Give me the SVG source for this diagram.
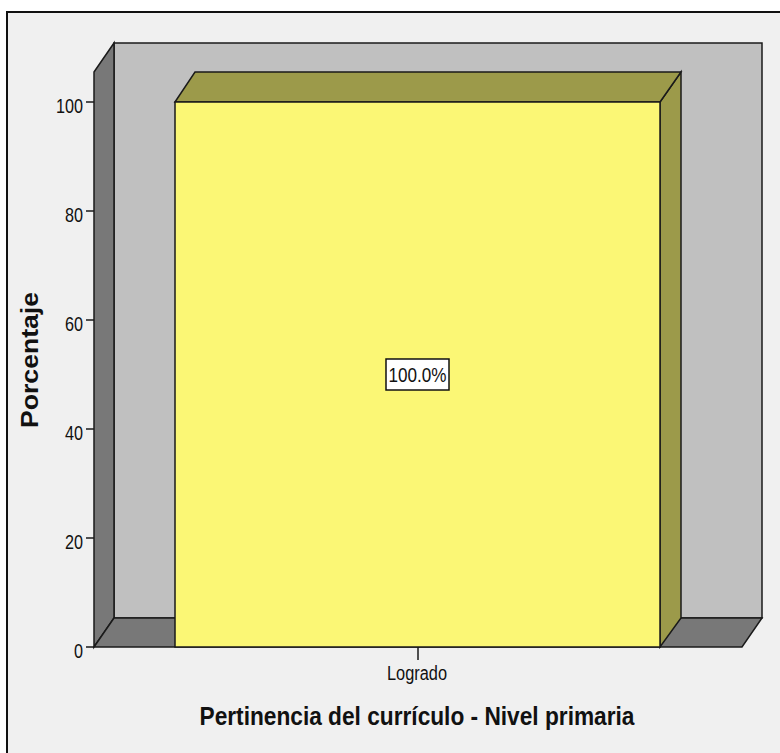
<svg xmlns="http://www.w3.org/2000/svg" width="780" height="753" viewBox="0 0 780 753">
<style>
.edge{stroke:#1a1a1a;stroke-width:1.5;stroke-linejoin:miter}
.tick{stroke:#1a1a1a;stroke-width:1.5}
.num{font-family:"Liberation Sans",Arial,sans-serif;font-size:20px;fill:#111}
.ttl{font-family:"Liberation Sans",Arial,sans-serif;font-weight:bold;fill:#111}
</style>
<rect x="0" y="0" width="780" height="753" fill="#ffffff"/>
<rect x="7" y="12" width="780" height="760" fill="#f0f0f0" stroke="#111" stroke-width="2"/>
<g id="chart-frame">
<rect class="edge" x="114" y="43" width="648" height="575" fill="#c0c0c0"/>
<polygon class="edge" points="94,72 114,43 114,618 94,647" fill="#787878"/>
<polygon class="edge" points="94,647 114,618 762,618 742,647" fill="#787878"/>
</g>
<g id="bar-logrado">
<polygon class="edge" points="660,102 681,72 681,618 660,647" fill="#9c9a4a"/>
<polygon class="edge" points="175,102 195,72 681,72 660,102" fill="#9c9a4a"/>
<rect class="edge" x="175" y="102" width="485" height="545" fill="#fbf775"/>
</g>
<g id="y-axis">
<line class="tick" x1="86" y1="102" x2="94" y2="102"/>
<line class="tick" x1="86" y1="211" x2="94" y2="211"/>
<line class="tick" x1="86" y1="320" x2="94" y2="320"/>
<line class="tick" x1="86" y1="429" x2="94" y2="429"/>
<line class="tick" x1="86" y1="538" x2="94" y2="538"/>
<line class="tick" x1="86" y1="647" x2="94" y2="647"/>
<text class="num" x="83" y="113" text-anchor="end" textLength="27" lengthAdjust="spacingAndGlyphs">100</text>
<text class="num" x="83" y="222" text-anchor="end" textLength="18" lengthAdjust="spacingAndGlyphs">80</text>
<text class="num" x="83" y="331" text-anchor="end" textLength="18" lengthAdjust="spacingAndGlyphs">60</text>
<text class="num" x="83" y="440" text-anchor="end" textLength="18" lengthAdjust="spacingAndGlyphs">40</text>
<text class="num" x="83" y="549" text-anchor="end" textLength="18" lengthAdjust="spacingAndGlyphs">20</text>
<text class="num" x="83" y="658" text-anchor="end" textLength="9" lengthAdjust="spacingAndGlyphs">0</text>
<text class="ttl" font-size="23" transform="translate(38,360) rotate(-90)" text-anchor="middle" textLength="136" lengthAdjust="spacingAndGlyphs">Porcentaje</text>
</g>
<g id="x-axis">
<line class="tick" x1="418" y1="647" x2="418" y2="660"/>
<text class="num" font-size="18" x="417" y="680" text-anchor="middle" textLength="60" lengthAdjust="spacingAndGlyphs">Logrado</text>
<text class="ttl" font-size="26" x="417" y="725" text-anchor="middle" textLength="435" lengthAdjust="spacingAndGlyphs">Pertinencia del currículo - Nivel primaria</text>
</g>
<g id="value-label">
<rect x="386" y="359" width="63" height="31" fill="#ffffff" stroke="#111" stroke-width="1.5"/>
<text class="num" x="417.5" y="382" text-anchor="middle" textLength="58" lengthAdjust="spacingAndGlyphs">100.0%</text>
</g>
</svg>
